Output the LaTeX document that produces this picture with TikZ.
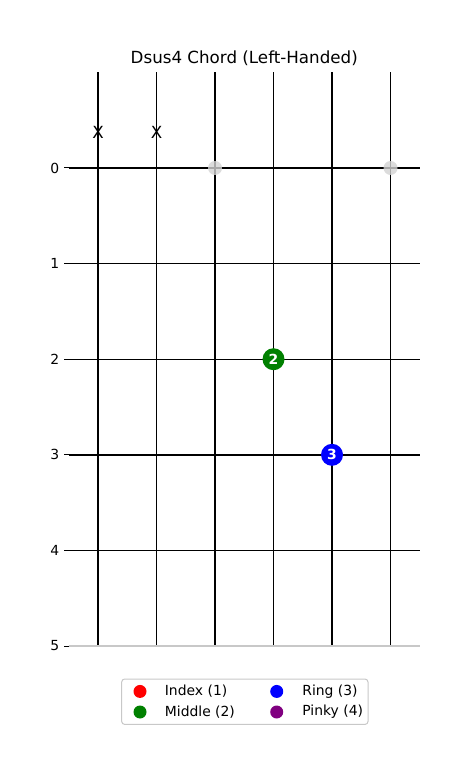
\documentclass[tikz,border=0pt]{standalone}
\usepackage{fontspec}
\setmainfont{DejaVu Sans}
\usetikzlibrary{positioning,calc}
\definecolor{DOT-RED}{RGB}{255, 0, 0}
\definecolor{DOT-GREEN}{RGB}{0, 128, 0}
\definecolor{DOT-BLUE}{RGB}{0, 0, 255}
\definecolor{DOT-PURPLE}{RGB}{128, 0, 128}
\definecolor{OPEN-GRAY}{RGB}{211, 211, 211}
\definecolor{SPINE-GRAY}{RGB}{200, 200, 200}

\begin{document}
\begin{tikzpicture}[x=58.5pt, y=-95.6pt,
    fret/.style={black, line width=1.4pt},
    ticklabel/.style={anchor=east, inner sep=0pt, font=\fontsize{13.9}{16}\selectfont},
    legendtext/.style={anchor=west, inner sep=0pt, font=\fontsize{13.9}{16}\selectfont},
    fingernum/.style={text=white, inner sep=0pt, font=\fontsize{13.9}{16}\selectfont\bfseries}]
  \useasboundingbox (-1.675,-1.757) rectangle (6.342,6.349);

  % Title
  \node[font=\fontsize{16.7}{19}\selectfont] (title) at (2.5,-1.15) {Dsus4 Chord (Left-Handed)};

  % Strings (vertical)
  \draw[fret] (0,-1) -- (0,5);
  \draw[fret] (1,-1) -- (1,5);
  \draw[fret] (2,-1) -- (2,5);
  \draw[fret] (3,-1) -- (3,5);
  \draw[fret] (4,-1) -- (4,5);
  \draw[fret] (5,-1) -- (5,5);

  % Frets (horizontal)
  \draw[fret] (-0.5,0) -- (5.5,0);
  \draw[fret] (-0.5,1) -- (5.5,1);
  \draw[fret] (-0.5,2) -- (5.5,2);
  \draw[fret] (-0.5,3) -- (5.5,3);
  \draw[fret] (-0.5,4) -- (5.5,4);
  \draw[SPINE-GRAY, line width=1.1pt] (-0.5,5) -- (5.5,5);

  % Fret numbers on the left
  \draw[black, line width=1pt] (-0.58,0) -- (-0.5,0);
  \draw[black, line width=1pt] (-0.58,1) -- (-0.5,1);
  \draw[black, line width=1pt] (-0.58,2) -- (-0.5,2);
  \draw[black, line width=1pt] (-0.58,3) -- (-0.5,3);
  \draw[black, line width=1pt] (-0.58,4) -- (-0.5,4);
  \draw[black, line width=1pt] (-0.58,5) -- (-0.5,5);
  \node[ticklabel] (t0) at (-0.66,0) {0};
  \node[ticklabel] (t1) at (-0.66,1) {1};
  \node[ticklabel] (t2) at (-0.66,2) {2};
  \node[ticklabel] (t3) at (-0.66,3) {3};
  \node[ticklabel] (t4) at (-0.66,4) {4};
  \node[ticklabel] (t5) at (-0.66,5) {5};

  % Muted strings
  \node[font=\fontsize{16.7}{19}\selectfont] (mute1) at (0,-0.37) {X};
  \node[font=\fontsize{16.7}{19}\selectfont] (mute2) at (1,-0.37) {X};

  % Open strings (lines show through)
  \fill[OPEN-GRAY, opacity=0.8] (2,0) circle (7pt);
  \fill[OPEN-GRAY, opacity=0.8] (5,0) circle (7pt);

  % Fingers
  \fill[DOT-GREEN] (3,2) circle (11pt);
  \node[fingernum] (f2) at (3,2) {2};
  \fill[DOT-BLUE] (4,3) circle (11pt);
  \node[fingernum] (f3) at (4,3) {3};

  % Legend
  \draw[SPINE-GRAY, line width=1pt, rounded corners=3pt, fill=white] (0.405,5.345) rectangle (4.615,5.82);
  \fill[DOT-RED] (0.718,5.475) circle (6.5pt);
  \node[legendtext] (lg1) at (1.14,5.475) {Index (1)};
  \fill[DOT-GREEN] (0.718,5.69) circle (6.5pt);
  \node[legendtext] (lg2) at (1.14,5.69) {Middle (2)};
  \fill[DOT-BLUE] (3.055,5.475) circle (6.5pt);
  \node[legendtext] (lg3) at (3.49,5.475) {Ring (3)};
  \fill[DOT-PURPLE] (3.055,5.69) circle (6.5pt);
  \node[legendtext] (lg4) at (3.49,5.69) {Pinky (4)};
\end{tikzpicture}
\end{document}
